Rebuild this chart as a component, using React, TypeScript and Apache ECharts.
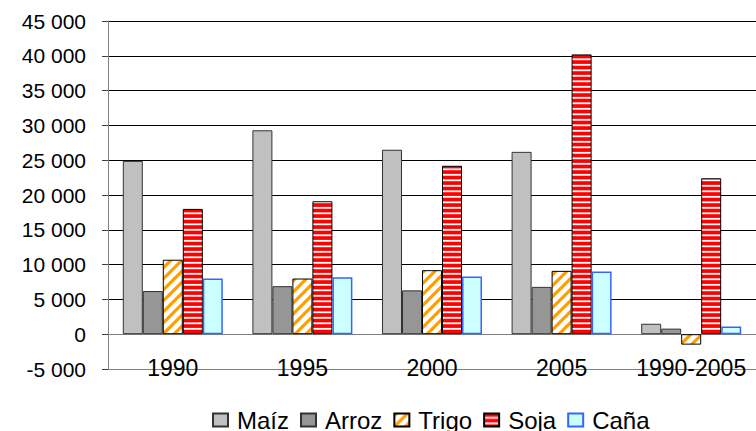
import React, { useEffect, useRef } from "react";
import * as echarts from "echarts";

const categories = ["1990", "1995", "2000", "2005", "1990-2005"];
const seriesNames = ["Maíz", "Arroz", "Trigo", "Soja", "Caña"];
const maiz = [24900, 29300, 26500, 26200, 1500];
const arroz = [6200, 6900, 6300, 6800, 800];
const trigo = [10700, 8000, 9200, 9100, -1500];
const soja = [18000, 19100, 24200, 40200, 22400];
const cana = [8000, 8200, 8300, 9000, 1100];

const yMin = -5000;
const yMax = 45000;
const yInterval = 5000;

function makeSojaTile() {
  const c = document.createElement("canvas");
  c.width = 4;
  c.height = 11;
  const ctx = c.getContext("2d")!;
  ctx.fillStyle = "#FF0000";
  ctx.fillRect(0, 0, 4, 11);
  ctx.fillStyle = "#FFFFFF";
  ctx.fillRect(0, 3.4, 4, 1.8);
  ctx.fillRect(0, 8.9, 4, 1.8);
  return c;
}

function makeTrigoTile() {
  const s = 11;
  const band = 4.5;
  const c = document.createElement("canvas");
  c.width = s;
  c.height = s;
  const ctx = c.getContext("2d")!;
  const img = ctx.createImageData(s, s);
  const or = [255, 158, 0];
  for (let y = 0; y < s; y++) {
    for (let x = 0; x < s; x++) {
      let cov = 0;
      const n = 4;
      for (let sy = 0; sy < n; sy++) {
        for (let sx = 0; sx < n; sx++) {
          const px = x + (sx + 0.5) / n;
          const py = y + (sy + 0.5) / n;
          const u = (((px + py) % s) + s) % s;
          if (u < band) cov++;
        }
      }
      const a = cov / (n * n);
      const i = (y * s + x) * 4;
      img.data[i] = Math.round(255 * (1 - a) + or[0] * a);
      img.data[i + 1] = Math.round(255 * (1 - a) + or[1] * a);
      img.data[i + 2] = Math.round(255 * (1 - a) + or[2] * a);
      img.data[i + 3] = 255;
    }
  }
  ctx.putImageData(img, 0, 0);
  return c;
}

function fmt(v: number) {
  const s = Math.abs(v)
    .toString()
    .replace(/\B(?=(\d{3})+(?!\d))/g, " ");
  return (v < 0 ? "-" : "") + s;
}

export default function App() {
  const ref = useRef<HTMLDivElement>(null);
  useEffect(() => {
    if (!ref.current) return;
    const chart = echarts.init(ref.current, undefined, { renderer: "svg" });
    const font = "'Liberation Sans', Arial, sans-serif";
    const sojaPattern = { image: makeSojaTile(), repeat: "repeat" };
    const trigoPattern = { image: makeTrigoTile(), repeat: "repeat" };
    const splitColors = [
      "#808080",
      "#808080",
      "#000000",
      "#000000",
      "#000000",
      "#000000",
      "#000000",
      "#000000",
      "#000000",
      "#000000",
      "#000000",
    ];
    const baseBar = {
      type: "bar",
      barWidth: 20,
      barGap: "0%",
    };
    chart.setOption({
      animation: false,
      backgroundColor: "#FFFFFF",
      textStyle: { fontFamily: font, color: "#000" },
      grid: { left: 108, top: 21, width: 653, height: 348, containLabel: false },
      legend: {
        left: 207,
        top: 403,
        icon: "rect",
        itemWidth: 15,
        itemHeight: 13,
        itemGap: 11,
        textStyle: {
          fontSize: 24,
          color: "#000",
          fontFamily: font,
          padding: [0, 0, 0, 4],
        },
        data: seriesNames,
      },
      xAxis: {
        type: "category",
        data: categories,
        axisLine: { onZero: true, lineStyle: { color: "#808080", width: 1 } },
        axisTick: { show: false },
        axisLabel: {
          fontSize: 23,
          color: "#000",
          margin: -13,
          interval: 0,
          fontFamily: font,
        },
        splitLine: { show: false },
      },
      yAxis: {
        type: "value",
        min: yMin,
        max: yMax,
        interval: yInterval,
        axisLine: { show: true, lineStyle: { color: "#808080", width: 1 } },
        axisTick: { show: true, length: 6, lineStyle: { color: "#404040" } },
        axisLabel: {
          fontSize: 21,
          color: "#000",
          margin: 22,
          fontFamily: font,
          formatter: (v: number) => fmt(v),
        },
        splitLine: { show: true, lineStyle: { color: splitColors, width: 1 } },
      },
      series: [
        {
          ...baseBar,
          name: seriesNames[0],
          data: maiz,
          itemStyle: { color: "#C0C0C0", borderColor: "#333333", borderWidth: 1 },
        },
        {
          ...baseBar,
          name: seriesNames[1],
          data: arroz,
          itemStyle: { color: "#969696", borderColor: "#333333", borderWidth: 1 },
        },
        {
          ...baseBar,
          name: seriesNames[2],
          data: trigo,
          itemStyle: { color: trigoPattern, borderColor: "#000000", borderWidth: 1 },
        },
        {
          ...baseBar,
          name: seriesNames[3],
          data: soja,
          itemStyle: { color: sojaPattern, borderColor: "#000000", borderWidth: 1 },
        },
        {
          ...baseBar,
          name: seriesNames[4],
          data: cana,
          itemStyle: { color: "#CCFFFF", borderColor: "#3366FF", borderWidth: 1.5 },
        },
      ],
    });
    return () => chart.dispose();
  }, []);
  return (
    <div
      ref={ref}
      style={{ position: "absolute", left: 0, top: 0, width: 756, height: 431 }}
    />
  );
}
